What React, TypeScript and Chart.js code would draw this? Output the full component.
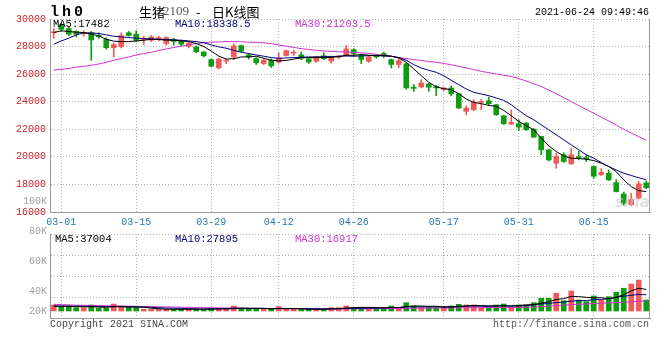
import React, { useEffect, useRef } from 'react';
import { Chart, registerables } from 'chart.js';
Chart.register(...registerables);

const dates = [
  '02-26',
  '03-01','03-02','03-03','03-04','03-05','03-08','03-09','03-10','03-11','03-12','03-15','03-16','03-17','03-18','03-19','03-22','03-23','03-24','03-25','03-26','03-29','03-30','03-31',
  '04-01','04-02','04-06','04-07','04-08','04-09','04-12','04-13','04-14','04-15','04-16','04-19','04-20','04-21','04-22','04-23','04-26','04-27','04-28','04-29','04-30',
  '05-06','05-07','05-10','05-11','05-12','05-13','05-14','05-17','05-18','05-19','05-20','05-21','05-24','05-25','05-26','05-27','05-28','05-31',
  '06-01','06-02','06-03','06-04','06-07','06-08','06-09','06-10','06-11','06-15','06-16','06-17','06-18','06-21','06-22','06-23','06-24',
];
const tickDates = ['03-01', '03-15', '03-29', '04-12', '04-26', '05-17', '05-31', '06-15'];

const open = [
  29000, 29600, 29300, 29100, 28950, 29000, 28800, 28520, 27920, 27990,
  29000, 28900, 28500, 28460, 28580, 28220, 28530, 28400, 28020, 27980,
  27600, 27050, 26450, 26950, 27250, 28070, 27400, 27130, 26770, 27000,
  26870, 27350, 27520, 27400, 27100, 26930, 27330, 26950, 27230, 27350,
  27780, 27350, 26930, 27400, 27500, 27050, 26700, 26760, 25050, 25070,
  25280, 25100, 24880, 24990, 24580, 23300, 23420, 23950, 24070, 23780,
  22980, 22380, 22400, 22450, 22010, 21480, 20510, 19540, 20150, 19500,
  20000, 19950, 19300, 18700, 18810, 18130, 17300, 16520, 17020, 18110,
];
const high = [
  29310, 29700, 29400, 29150, 29150, 29100, 29000, 28650, 28250, 29000,
  29100, 29150, 28750, 28800, 28750, 28720, 28600, 28450, 28300, 28050,
  27650, 27100, 27150, 27100, 28200, 28100, 27500, 27200, 27150, 27100,
  27550, 27750, 27750, 27600, 27150, 27300, 27550, 27320, 27350, 28080,
  27850, 27450, 27350, 27450, 27600, 27100, 27200, 26800, 25250, 25600,
  25350, 25200, 25050, 25150, 24600, 23700, 24150, 24150, 24340, 23800,
  23000, 23400, 22700, 22500, 22050, 21500, 20550, 20270, 20300, 20630,
  20400, 20150, 19350, 19150, 19050, 18350, 17450, 17360, 18200, 18250,
];
const low = [
  28600, 29150, 28800, 28700, 28750, 27000, 28600, 27800, 27250, 27900,
  28750, 28350, 28150, 28350, 28400, 28100, 28100, 28050, 27900, 27550,
  27250, 26550, 26380, 26750, 27050, 27600, 27100, 26700, 26700, 26480,
  26800, 27300, 27350, 27050, 26780, 26850, 27050, 26800, 27100, 27300,
  27300, 26760, 26850, 27150, 27200, 26450, 26450, 24900, 24750, 25000,
  24750, 24440, 24800, 24430, 23500, 23050, 23350, 23420, 23750, 23000,
  22350, 22350, 21900, 21900, 21400, 20150, 19700, 19180, 19600, 19450,
  19780, 19650, 18450, 18650, 18280, 17450, 16500, 16450, 16950, 17700,
];
const close = [
  29060, 29250, 28900, 28900, 29000, 28480, 28720, 27920, 28150, 28800,
  28800, 28450, 28550, 28700, 28620, 28650, 28370, 28170, 28250, 27620,
  27330, 26570, 27100, 27000, 28050, 27670, 27250, 26820, 27000, 26600,
  27170, 27700, 27560, 27150, 26880, 27250, 27120, 27280, 27270, 27830,
  27490, 27060, 27250, 27250, 27350, 26700, 26980, 25000, 24970, 25360,
  25050, 25000, 24990, 24580, 23540, 23540, 23950, 24000, 23860, 23060,
  22400, 22500, 22160, 21970, 21430, 20510, 19780, 20030, 19660, 20150,
  19950, 19850, 18600, 18880, 18330, 17480, 16630, 16900, 18040, 17760,
];

const ma5 = [
  29020, 29140, 29090, 29040, 29020, 28900, 28780, 28530, 28390, 28360,
  28360, 28410, 28460, 28530, 28510, 28460, 28460, 28410, 28360, 28220,
  28010, 27670, 27310, 27100, 27120, 27250, 27250, 27300, 27150, 27010,
  26960, 26990, 27090, 27190, 27200, 27200, 27200, 27220, 27270, 27370,
  27370, 27420, 27370, 27345, 27345, 27300, 27180, 26860, 26380, 25890,
  25410, 25070, 24950, 24870, 24580, 24190, 23950, 23860, 23730, 23660,
  23370, 22980, 22570, 22260, 21960, 21360, 20800, 20390, 20070, 19900,
  19880, 19830, 19730, 19540, 19300, 18930, 18330, 17840, 17550, 17482,
];
const ma10 = [
  28170, 28410, 28610, 28850, 28990, 28990, 28950, 28850, 28750, 28700,
  28655, 28610, 28580, 28560, 28530, 28510, 28485, 28460, 28410, 28360,
  28270, 28120, 27980, 27880, 27730, 27590, 27490, 27390, 27300, 27200,
  27150, 27175, 27200, 27225, 27250, 27250, 27270, 27270, 27300, 27320,
  27300, 27320, 27345, 27345, 27320, 27300, 27200, 27010, 26690, 26450,
  26280, 26130, 25890, 25550, 25240, 24920, 24680, 24560, 24440, 24270,
  24100, 23780, 23370, 22980, 22690, 22330, 21960, 21600, 21240, 20870,
  20510, 20150, 19900, 19590, 19300, 19050, 18810, 18650, 18480, 18338.5,
];
const ma30 = [
  26300, 26350, 26420, 26500, 26570, 26640, 26740, 26860, 27000, 27130,
  27250, 27390, 27490, 27590, 27710, 27830, 27930, 28020, 28120, 28220,
  28290, 28315, 28340, 28360, 28360, 28350, 28320, 28300, 28270, 28210,
  28120, 28030, 27940, 27850, 27790, 27730, 27680, 27650, 27630, 27610,
  27580, 27540, 27500, 27440, 27380, 27300, 27200, 27130, 27060, 26990,
  26920, 26850, 26780, 26680, 26570, 26450, 26330, 26200, 26110, 26010,
  25920, 25830, 25680, 25500, 25300, 25100, 24850, 24580, 24300, 24000,
  23720, 23440, 23160, 22880, 22600, 22300, 22000, 21730, 21460, 21203.5,
];

const volume = [
  10300, 7400, 7400, 5700, 5700, 10300, 4600, 4600, 12000, 6300,
  6300, 5700, 2900, 2900, 2900, 2900, 2900, 2900, 4000, 2900,
  2900, 4600, 4000, 4000, 8600, 4000, 2900, 4000, 4000, 2900,
  7400, 2900, 2900, 2900, 2900, 2900, 2900, 5700, 5700, 8600,
  5700, 5700, 5700, 4600, 5700, 8600, 5700, 14300, 8600, 5700,
  5700, 5700, 7400, 8600, 11500, 10300, 10300, 5700, 7400, 10300,
  12000, 7400, 10300, 10300, 14300, 21800, 21800, 30400, 17700, 34300,
  18900, 16000, 25700, 18900, 24600, 32000, 39000, 46300, 53000, 18900,
];
const volMa5 = [
  8000, 8000, 8000, 7500, 7300, 7300, 6700, 6300, 7400, 7600,
  6800, 7000, 6600, 4800, 4000, 3100, 2900, 2900, 3100, 3100,
  3100, 3400, 3600, 3900, 4800, 5000, 4700, 4700, 4600, 3600,
  4200, 4100, 4100, 3800, 3200, 2900, 2900, 3500, 4000, 5100,
  5700, 6200, 6200, 6000, 5400, 5900, 6000, 7800, 8500, 8500,
  8000, 8100, 6600, 6600, 7600, 8700, 9600, 9300, 8900, 8800,
  9100, 8600, 9500, 10500, 10900, 13600, 15700, 19700, 21200, 25200,
  24600, 23500, 22500, 22800, 20800, 23400, 28000, 34400, 39000, 37004,
];
const volMa10 = [
  8600, 8600, 8500, 8300, 8100, 8000, 7700, 7500, 7600, 7400,
  7200, 7000, 6600, 6300, 5600, 5000, 4800, 4600, 3900, 3700,
  3400, 3600, 3600, 3600, 4200, 4200, 4200, 4300, 4300, 4200,
  4500, 4300, 4200, 4200, 3700, 3800, 3600, 3900, 3900, 4400,
  4600, 4600, 4800, 5000, 5300, 5800, 5900, 6900, 7200, 7000,
  7000, 7100, 7200, 7300, 8000, 8300, 8500, 8100, 8000, 8500,
  8900, 8400, 8500, 9100, 10600, 12100, 12800, 14500, 15200, 17000,
  17500, 17800, 19400, 20000, 21000, 23800, 25100, 27000, 28400, 27895,
];
const volMa30 = [
  11500, 11000, 10500, 10000, 9800, 9500, 9300, 9000, 8800, 8600,
  8300, 8000, 7700, 7400, 7200, 7000, 6800, 6500, 6300, 6000,
  5800, 5600, 5400, 5200, 5100, 4900, 4700, 4500, 4400, 4200,
  4100, 4000, 3900, 3800, 3700, 3600, 3500, 3500, 3500, 3600,
  3700, 3800, 3900, 4000, 4100, 4200, 4300, 4500, 4700, 4800,
  4900, 5000, 5100, 5300, 5500, 5600, 5700, 5800, 5900, 6000,
  6000, 6100, 6200, 6400, 6800, 7500, 8200, 9200, 10000, 11000,
  11500, 12000, 12800, 13200, 13700, 14200, 15000, 15800, 16600, 16917,
];

const volTickLabels = ['100K', '80K', '60K', '40K', '20K'];
const volTickValues = [100000, 80000, 60000, 40000, 20000];

const titleCode = 'lh0';
const titleParts = ['生猪', '2109', '-', '日K线图'];
const stamp = '2021-06-24 09:49:46';
const priceMaLabels = ['MA5:17482', 'MA10:18338.5', 'MA30:21203.5'];
const volMaLabels = ['MA5:37004', 'MA10:27895', 'MA30:16917'];
const footerLeft = 'Copyright 2021 SINA.COM';
const footerRight = 'http://finance.sina.com.cn';

const MONO = '"Liberation Mono", "DejaVu Sans Mono", monospace';
const CJK = '"Noto Sans CJK SC", sans-serif';
const RED = '#f05a5a';
const GREEN = '#109c10';
const C_MA5 = '#000000';
const C_MA10 = '#000080';
const C_MA30 = '#cc33cc';
const GRID = '#b4b4b4';
const FRAME = '#999999';

const candleColors = close.map((c, i) => (c >= open[i] ? RED : GREEN));
const bodies = open.map((o, i) => [Math.min(o, close[i]), Math.max(o, close[i])]);
const wicks = low.map((l, i) => [l, high[i]]);

const xGridColor = (c: any) => (tickDates.includes(dates[c.index]) ? GRID : 'rgba(0,0,0,0)');

const mainTextPlugin = {
  id: 'mainText',
  afterDraw(chart: any) {
    const ctx = chart.ctx;
    const a = chart.chartArea;
    ctx.save();
    ctx.textBaseline = 'middle';
    ctx.fillStyle = '#000';
    ctx.font = `bold 15px ${MONO}`;
    (ctx as any).letterSpacing = '3px';
    ctx.fillText(titleCode, 50, 12);
    (ctx as any).letterSpacing = '0px';
    ctx.font = `13px ${CJK}`;
    ctx.fillText(titleParts[0], 139, 12);
    ctx.fillStyle = '#555';
    ctx.font = `13px "Liberation Serif", serif`;
    ctx.fillText(titleParts[1], 163, 12);
    ctx.fillStyle = '#000';
    ctx.font = `13px ${CJK}`;
    ctx.fillText(titleParts[2], 196, 12);
    ctx.fillText(titleParts[3], 212, 12);
    ctx.font = `10px ${MONO}`;
    ctx.textAlign = 'right';
    ctx.fillText(stamp, 649, 12);
    ctx.textAlign = 'left';
    ctx.font = `10.5px ${MONO}`;
    ctx.fillStyle = C_MA5;
    ctx.fillText(priceMaLabels[0], 53, 24);
    ctx.fillStyle = C_MA10;
    ctx.fillText(priceMaLabels[1], 175, 24);
    ctx.fillStyle = C_MA30;
    ctx.fillText(priceMaLabels[2], 295, 24);
    // watermark
    ctx.font = `italic bold 15px "DejaVu Sans", sans-serif`;
    ctx.fillStyle = 'rgba(200,200,200,0.55)';
    ctx.fillText('sina', 615, 203);
    // right frame
    ctx.strokeStyle = FRAME;
    ctx.lineWidth = 1;
    ctx.beginPath();
    ctx.moveTo(Math.round(a.right) - 0.5, a.top);
    ctx.lineTo(Math.round(a.right) - 0.5, a.bottom);
    ctx.stroke();
    ctx.restore();
  },
};

const volTextPlugin = {
  id: 'volText',
  afterDraw(chart: any) {
    const ctx = chart.ctx;
    const a = chart.chartArea;
    const yl = chart.scales.yl;
    ctx.save();
    ctx.textBaseline = 'middle';
    ctx.font = `10px ${MONO}`;
    ctx.fillStyle = '#a0a0a0';
    ctx.textAlign = 'right';
    volTickLabels.forEach((t, i) => {
      const y = Math.min(yl.getPixelForValue(volTickValues[i]), a.bottom - 7);
      ctx.fillText(t, 47, y);
    });
    ctx.textAlign = 'left';
    ctx.font = `10.5px ${MONO}`;
    ctx.fillStyle = C_MA5;
    ctx.fillText(volMaLabels[0], 55, a.top + 5);
    ctx.fillStyle = C_MA10;
    ctx.fillText(volMaLabels[1], 175, a.top + 5);
    ctx.fillStyle = C_MA30;
    ctx.fillText(volMaLabels[2], 295, a.top + 5);
    ctx.font = `10px ${MONO}`;
    ctx.fillStyle = '#444';
    ctx.fillText(footerLeft, 50, a.bottom + 6);
    ctx.textAlign = 'right';
    ctx.fillStyle = '#555';
    ctx.fillText(footerRight, 649, a.bottom + 6);
    ctx.strokeStyle = FRAME;
    ctx.lineWidth = 1;
    ctx.beginPath();
    ctx.moveTo(Math.round(a.right) - 0.5, a.top);
    ctx.lineTo(Math.round(a.right) - 0.5, a.bottom);
    ctx.stroke();
    ctx.restore();
  },
};

const lineDs = (label: string, data: number[], color: string, yAxisID = 'y') => ({
  type: 'line' as const,
  label,
  data,
  borderColor: color,
  backgroundColor: color,
  borderWidth: 1,
  pointRadius: 0,
  tension: 0,
  order: 0,
  yAxisID,
});

export default function App() {
  const mainRef = useRef<HTMLCanvasElement>(null);
  const volRef = useRef<HTMLCanvasElement>(null);

  useEffect(() => {
    const main = new Chart(mainRef.current as HTMLCanvasElement, {
      type: 'bar',
      data: {
        labels: dates,
        datasets: [
          lineDs('MA5', ma5, C_MA5),
          lineDs('MA10', ma10, C_MA10),
          lineDs('MA30', ma30, C_MA30),
          {
            type: 'bar',
            label: 'body',
            data: bodies as any,
            backgroundColor: candleColors,
            barThickness: 5,
            minBarLength: 1,
            grouped: false,
            order: 1,
          } as any,
          {
            type: 'bar',
            label: 'wick',
            data: wicks as any,
            backgroundColor: candleColors,
            barThickness: 1,
            minBarLength: 1,
            grouped: false,
            order: 2,
          } as any,
        ],
      },
      options: {
        responsive: false,
        animation: false,
        layout: { padding: { top: 19, right: 10, left: 0, bottom: 0 } },
        plugins: { legend: { display: false }, tooltip: { enabled: false } },
        scales: {
          x: {
            offset: true,
            grid: { offset: false, drawTicks: false, color: xGridColor, lineWidth: 1 },
            border: { display: true, color: FRAME, dash: [1, 2] },
            ticks: {
              autoSkip: false,
              maxRotation: 0,
              color: '#2a78b0',
              font: { family: MONO, size: 10 },
              padding: 4,
              callback: (_v: any, i: number) => (tickDates.includes(dates[i]) ? dates[i] : ''),
            },
            afterFit: (s: any) => {
              s.height = 20;
            },
          },
          y: {
            min: 16000,
            max: 30000,
            ticks: {
              stepSize: 2000,
              color: '#c8232c',
              font: { family: MONO, size: 10 },
              padding: 4,
              callback: (v: any) => String(v),
            },
            grid: { drawTicks: false, color: GRID },
            border: { display: true, color: FRAME, dash: [1, 2] },
            afterFit: (s: any) => {
              s.width = 50;
            },
          },
        },
      } as any,
      plugins: [mainTextPlugin],
    });

    const vol = new Chart(volRef.current as HTMLCanvasElement, {
      type: 'bar',
      data: {
        labels: dates,
        datasets: [
          lineDs('VMA5', volMa5, C_MA5),
          lineDs('VMA10', volMa10, C_MA10),
          lineDs('VMA30', volMa30, C_MA30),
          {
            type: 'bar',
            label: 'volume',
            data: volume,
            backgroundColor: candleColors,
            barThickness: 5,
            grouped: false,
            order: 1,
            yAxisID: 'y',
          } as any,
        ],
      },
      options: {
        responsive: false,
        animation: false,
        layout: { padding: { top: 44, right: 10, left: 0, bottom: 0 } },
        plugins: { legend: { display: false }, tooltip: { enabled: false } },
        scales: {
          x: {
            offset: true,
            grid: { offset: false, drawTicks: false, color: xGridColor, lineWidth: 1 },
            border: { display: true, color: FRAME, dash: [1, 2] },
            ticks: { display: false, autoSkip: false },
            afterFit: (s: any) => {
              s.height = 42;
            },
          },
          y: {
            min: -12000,
            max: 132000,
            afterBuildTicks: (s: any) => {
              s.ticks = [-12000, 24000, 60000, 96000, 132000].map((v) => ({ value: v }));
            },
            ticks: { display: false },
            grid: { drawTicks: false, color: GRID },
            border: { display: true, color: FRAME, dash: [1, 2] },
            afterFit: (s: any) => {
              s.width = 50;
            },
          },
          yl: {
            display: false,
            position: 'left',
            min: 22000,
            max: 78000,
          },
        },
      } as any,
      plugins: [volTextPlugin],
    });

    return () => {
      main.destroy();
      vol.destroy();
    };
  }, []);

  return (
    <div style={{ position: 'absolute', left: 0, top: 0, width: 660, height: 360, background: '#fff' }}>
      <canvas ref={mainRef} width={660} height={232} style={{ position: 'absolute', left: 0, top: 0 }} />
      <canvas ref={volRef} width={660} height={170} style={{ position: 'absolute', left: 0, top: 190 }} />
    </div>
  );
}
